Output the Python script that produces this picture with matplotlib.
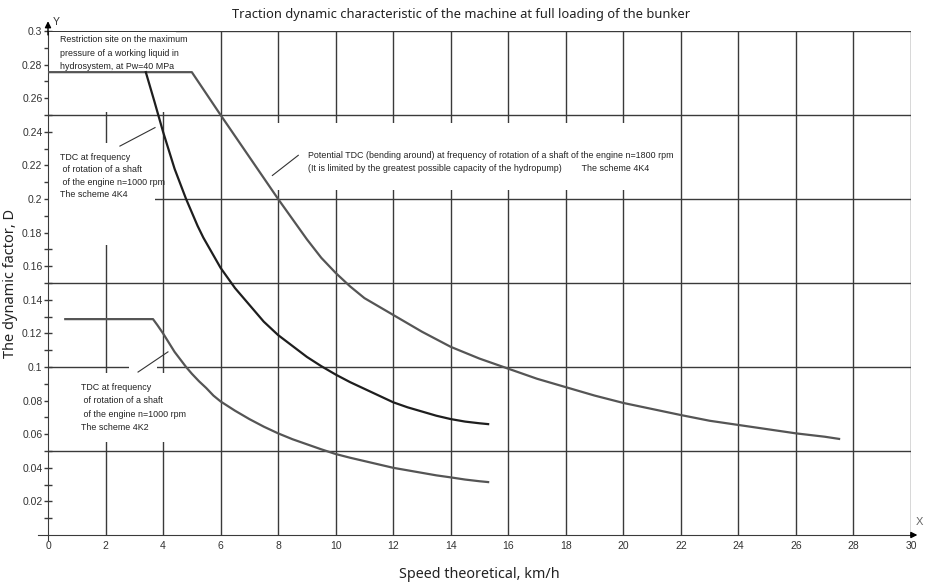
import numpy as np
import matplotlib
matplotlib.use("Agg")
import matplotlib.pyplot as plt
from matplotlib.patches import Rectangle

# curve values
potential_x = [0, 5.0, 6, 7, 7.5, 8, 8.5, 9, 9.5, 10, 10.5, 11, 11.5, 12, 12.5, 13, 13.5,
               14, 15, 16, 17, 18, 19, 20, 21, 22, 23, 24, 25, 26, 27, 27.5]
potential_y = [0.2755, 0.2755, 0.25, 0.225, 0.2125, 0.2, 0.188, 0.176, 0.165, 0.156,
               0.148, 0.141, 0.136, 0.131, 0.126, 0.121, 0.1165, 0.112, 0.105, 0.099,
               0.093, 0.088, 0.083, 0.0786, 0.075, 0.0714, 0.068, 0.0655, 0.063,
               0.0605, 0.0585, 0.0572]
k4_x = [3.4, 3.7, 4, 4.2, 4.4, 4.6, 4.8, 5.0, 5.2, 5.4, 5.6, 5.8, 6, 6.25, 6.5, 6.75,
        7, 7.25, 7.5, 7.75, 8, 8.5, 9, 9.5, 10, 10.5, 11, 11.5, 12, 12.5, 13, 13.5,
        14, 14.5, 15, 15.3]
k4_y = [0.2755, 0.258, 0.24, 0.229, 0.218, 0.209, 0.2, 0.192, 0.184, 0.177, 0.171,
        0.165, 0.159, 0.153, 0.147, 0.142, 0.137, 0.132, 0.127, 0.123, 0.119, 0.1125,
        0.106, 0.1005, 0.0955, 0.091, 0.087, 0.083, 0.079, 0.076, 0.0735, 0.071,
        0.069, 0.0675, 0.0665, 0.066]
k2_x = [0.6, 3.65, 3.8, 4, 4.2, 4.4, 4.6, 4.8, 5, 5.25, 5.5, 5.75, 6, 6.5, 7, 7.5, 8,
        8.5, 9, 9.5, 10, 10.5, 11, 11.5, 12, 12.5, 13, 13.5, 14, 14.5, 15, 15.3]
k2_y = [0.1285, 0.1285, 0.125, 0.12, 0.1145, 0.109, 0.1045, 0.1, 0.096, 0.0915,
        0.0875, 0.083, 0.0795, 0.074, 0.069, 0.0645, 0.0605, 0.057, 0.054, 0.051,
        0.0482, 0.046, 0.044, 0.042, 0.040, 0.0385, 0.037, 0.0355, 0.0343, 0.033,
        0.032, 0.0315]

x_ticks = np.arange(0, 31, 2)
y_ticks = np.arange(0.02, 0.301, 0.02)
y_tick_labels = ["0.02", "0.04", "0.06", "0.08", "0.1", "0.12", "0.14", "0.16",
                 "0.18", "0.2", "0.22", "0.24", "0.26", "0.28", "0.3"]
h_grid = [0.05, 0.1, 0.15, 0.2, 0.25, 0.3]
v_grid = np.arange(2, 31, 2)

title = "Traction dynamic characteristic of the machine at full loading of the bunker"
label_restr = ("Restriction site on the maximum\npressure of a working liquid in\n"
               "hydrosystem, at Pw=40 MPa")
label_4k4 = ("TDC at frequency\n of rotation of a shaft\n of the engine n=1000 rpm\n"
             "The scheme 4K4")
label_pot = ("Potential TDC (bending around) at frequency of rotation of a shaft of the engine n=1800 rpm\n"
             "(It is limited by the greatest possible capacity of the hydropump)        The scheme 4K4")
label_4k2 = ("TDC at frequency\n of rotation of a shaft\n of the engine n=1000 rpm\n"
             "The scheme 4K2")

fig = plt.figure(figsize=(9.25, 5.84), dpi=100)
ax = fig.add_axes([48 / 925, 1 - 535 / 584, (911 - 48) / 925, (535 - 31) / 584])
ax.set_xlim(0, 30)
ax.set_ylim(0, 0.3)

gc = "#3a3a3a"
for y in h_grid:
    ax.axhline(y, color=gc, lw=1.0, zorder=1)
for x in v_grid:
    ax.axvline(x, color=gc, lw=1.0, zorder=1)

# white areas behind the labels that break the grid
for (x0, y0, w, h) in [(0.05, 0.2515, 4.4, 0.048), (0.05, 0.1725, 3.67, 0.061),
                       (7.4, 0.2055, 14.2, 0.04), (0.05, 0.0555, 4.4, 0.041),
                       (2.83, 0.098, 0.95, 0.004)]:
    ax.add_patch(Rectangle((x0, y0), w, h, facecolor="white", edgecolor="none",
                           zorder=2))

for s in ["top", "right"]:
    ax.spines[s].set_visible(False)
ax.spines["left"].set_color(gc)
ax.spines["bottom"].set_color(gc)
ax.spines["left"].set_bounds(-0.003, 0.3)
ax.spines["bottom"].set_bounds(-0.35, 30)

ax.set_xticks(x_ticks)
ax.set_xticklabels([str(v) for v in x_ticks])
ax.set_yticks(y_ticks)
ax.set_yticklabels(y_tick_labels)
ax.set_yticks(np.arange(0.01, 0.3, 0.02), minor=True)
ax.tick_params(axis="x", length=0, pad=4, labelsize=7.5, colors="#333333")
ax.tick_params(axis="y", which="both", direction="inout", length=6, width=1,
               color=gc, labelsize=7.5, labelcolor="#333333", pad=1)
for t in ax.get_xticklabels() + ax.get_yticklabels():
    t.set_family("Liberation Sans")

# axis arrows
ax.annotate("", xy=(0, 0.3075), xytext=(0, 0.296), xycoords="data",
            arrowprops=dict(arrowstyle="-|>", color="black", lw=1, mutation_scale=9),
            annotation_clip=False)
ax.annotate("", xy=(30.32, 0), xytext=(29.9, 0), xycoords="data",
            arrowprops=dict(arrowstyle="-|>", color="black", lw=1, mutation_scale=9),
            annotation_clip=False)
ax.text(0.15, 0.3025, "Y", fontsize=7.5, family="Liberation Sans", color="#333333",
        va="bottom")
ax.text(30.18, 0.0045, "X", fontsize=8, family="Liberation Sans", color="#666666",
        va="bottom")

# curves
ax.plot(potential_x, potential_y, color="#555555", lw=1.6, zorder=4)
ax.plot(k4_x, k4_y, color="#1e1e1e", lw=1.6, zorder=4)
ax.plot(k2_x, k2_y, color="#555555", lw=1.6, zorder=4)

tkw = dict(fontsize=6.4, family="Liberation Sans", color="#222222", va="top",
           ha="left", zorder=3)
ax.text(0.42, 0.2975, label_restr, linespacing=1.65, **tkw)
ax.text(0.4, 0.2275, label_4k4, linespacing=1.5, **tkw)
ax.text(9.05, 0.2285, label_pot, linespacing=1.5, **tkw)
ax.text(1.15, 0.0905, label_4k2, linespacing=1.62, **tkw)

lk = dict(color="#333333", lw=0.8, zorder=5)
ax.plot([2.5, 3.72], [0.2315, 0.2425], **lk)
ax.plot([7.8, 8.7], [0.214, 0.226], **lk)
ax.plot([3.13, 4.17], [0.097, 0.109], **lk)

fig.text(0.498, 0.976, title, ha="center", va="center", fontsize=9.3,
         family="Noto Sans", color="#222222")
ax.set_xlabel("Speed theoretical, km/h", fontsize=10.3, family="Noto Sans",
              color="#222222", labelpad=12)
ax.set_ylabel("The dynamic factor, D", fontsize=10.5, family="Noto Sans",
              color="#222222", labelpad=3)

fig.savefig("out.png", dpi=100, facecolor="white")
